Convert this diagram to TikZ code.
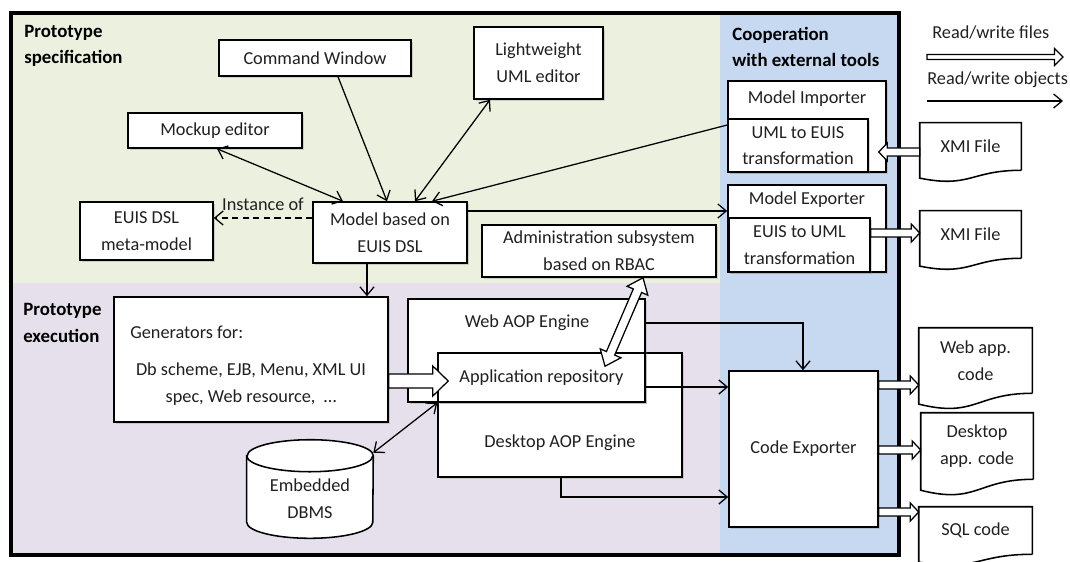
\documentclass[tikz,border=0pt]{standalone}
\usepackage{fontspec}
\setmainfont{Carlito}
\usepackage{tikz}
\usetikzlibrary{arrows.meta,calc,shadows}
\definecolor{Ink}{HTML}{202020}
\definecolor{SpecGreen}{HTML}{EBF1DE}
\definecolor{ExecPurple}{HTML}{E5E0EC}
\definecolor{CoopBlue}{HTML}{C6D9F1}
\tikzset{
  spot/.style n args={4}{at={({(#1+#3)/2},{(#2+#4)/2})},
    minimum width={(#3-#1)*0.025cm},minimum height={(#4-#2)*0.025cm}},
  box/.style={draw=black,line width=1.1pt,fill=white,inner sep=0pt,align=center,text=Ink,
    drop shadow={shadow xshift=1.5pt,shadow yshift=-1.5pt,opacity=0.3}},
  txt/.style={inner sep=0pt,align=center,text=Ink},
  doc/.style={inner sep=0pt,align=center,text=Ink},
  headtxt/.style={inner sep=0pt,align=left,text=black,font=\fontsize{13.4}{19}\selectfont\bfseries},
  link/.style={line width=0.9pt,-{Straight Barb[length=6pt,width=10pt]}},
  twoway/.style={line width=0.9pt,{Straight Barb[length=6pt,width=10pt]}-{Straight Barb[length=6pt,width=10pt]}},
  blockline/.style={draw=black,fill=white,line width=0.9pt,line join=miter},
  docline/.style={draw=black,line width=1.1pt},
  cylline/.style={draw=black,line width=1.1pt,fill=white}
}
% open block arrow: tail, tip, half shaft, half head, head length
\newcommand{\blockarrow}[5]{%
  \path[blockline] ($(#1)!#3!90:(#2)$)
    -- ($(#2)!#5!(#1)!#3!-90:(#1)$) -- ($(#2)!#5!(#1)!#4!-90:(#1)$) -- (#2)
    -- ($(#2)!#5!(#1)!#4!90:(#1)$) -- ($(#2)!#5!(#1)!#3!90:(#1)$)
    -- ($(#1)!#3!-90:(#2)$) -- cycle;}
% same, with a head at both ends
\newcommand{\blockarrowboth}[5]{%
  \path[blockline] (#1) -- ($(#1)!#5!(#2)!#4!90:(#2)$) -- ($(#1)!#5!(#2)!#3!90:(#2)$)
    -- ($(#2)!#5!(#1)!#3!-90:(#1)$) -- ($(#2)!#5!(#1)!#4!-90:(#1)$) -- (#2)
    -- ($(#2)!#5!(#1)!#4!90:(#1)$) -- ($(#2)!#5!(#1)!#3!90:(#1)$)
    -- ($(#1)!#5!(#2)!#3!-90:(#2)$) -- ($(#1)!#5!(#2)!#4!-90:(#2)$) -- cycle;}
% document outline with wavy bottom round a node
\newcommand{\docwave}[1]{%
  \draw[docline] (#1.south east) -- (#1.north east) -- (#1.north west)
    -- ($(#1.north west)!1.165!(#1.south west)$)
    .. controls ($(#1.north)!1.38!(#1.south)$) and (#1.south) .. (#1.south east);}

\begin{document}
\begin{tikzpicture}[x=0.025cm,y=-0.025cm,font=\fontsize{13}{19}\selectfont]
  \clip (0,0) rectangle (1070,561);
  % three areas
  \fill[SpecGreen] (11,13) rectangle (720,283);
  \fill[ExecPurple] (11,283) rectangle (720,555);
  \fill[CoopBlue] (720,13) rectangle (899,555);
  \draw[line width=2.2pt] (11,13) rectangle (899,555);
  \node[headtxt,anchor=west] (spechead) at (24,46) {Prototype\\specification};
  \node[headtxt,anchor=west] (exechead) at (23,323) {Prototype\\execution};
  \node[headtxt,anchor=west] (coophead) at (732,47) {Cooperation\\with external tools};

  % specification
  \node[box,spot={219}{40}{411}{76}] (cmdwin) {Command Window};
  \node[box,spot={474}{27}{603}{99}] (umled) {Lightweight\\UML editor};
  \node[box,spot={128}{113}{302}{148}] (mockup) {Mockup editor};
  \node[box,spot={80}{202}{213}{260}] (metamodel) {EUIS DSL\\meta-model};
  \node[box,spot={313}{202}{467}{263}] (model) {Model based on\\EUIS DSL};
  \node[box,spot={482}{225}{716}{277}] (admin) {Administration subsystem\\based on RBAC};

  % external tools
  \node[box,spot={728}{81}{886}{172}] (importer) {};
  \node[txt] (importerlbl) at (807,99) {Model Importer};
  \node[box,spot={728}{119}{868}{172}] (umltoeuis) {UML to EUIS\\transformation};
  \node[box,spot={728}{185}{886}{272}] (exporter) {};
  \node[txt] (exporterlbl) at (807,200) {Model Exporter};
  \node[box,spot={729}{218}{870}{272}] (euistouml) {EUIS to UML\\transformation};
  \node[doc,spot={920}{123}{1021}{170}] (xmiin) {XMI File};
  \docwave{xmiin}
  \node[doc,spot={920}{211}{1021}{258}] (xmiout) {XMI File};
  \docwave{xmiout}

  % execution
  \node[box,spot={114}{297}{388}{422}] (gen) {};
  \node[txt,anchor=west] (genhead) at (130,332) {Generators for:};
  \node[txt] (genlist) at (251,384) {Db scheme, EJB, Menu, XML UI\\spec, Web resource,\ \ …};
  \node[box,spot={438}{353}{682}{477}] (desktop) {};
  \node[txt] (desktoplbl) at (560,443) {Desktop AOP Engine};
  \node[box,spot={408}{299}{645}{402}] (webaop) {};
  \node[txt] (webaoplbl) at (527,323) {Web AOP Engine};
  \node[box,spot={438}{353}{645}{402}] (apprepo) {Application repository};
  \node[box,spot={729}{371}{878}{527}] (codeexp) {Code Exporter};
  \node[inner sep=0pt,spot={247}{440}{373}{538}] (dbms) {};
  \draw[cylline] ($(dbms.north west)+(0,16)$) -- ($(dbms.south west)+(0,-16)$)
    arc[start angle=180,end angle=360,x radius=1.575cm,y radius=0.4cm]
    -- ($(dbms.north east)+(0,16)$)
    arc[start angle=0,end angle=180,x radius=1.575cm,y radius=0.4cm] -- cycle;
  \draw[docline] ($(dbms.north west)+(0,16)$) arc[start angle=180,end angle=360,x radius=1.575cm,y radius=0.4cm];
  \node[txt] (dbmslbl) at (310,498.5) {Embedded\\DBMS};

  % generated code
  \node[doc,spot={919}{328}{1032}{393}] (webcode) {Web app.\\code};
  \docwave{webcode}
  \node[doc,spot={921}{413}{1033}{479}] (deskcode) {Desktop\\app. code};
  \docwave{deskcode}
  \node[doc,spot={919}{507}{1032}{554}] (sqlcode) {SQL code};
  \docwave{sqlcode}

  % object links
  \draw[link] (cmdwin.south -| 338,0) -- (model.north -| 387,0);
  \draw[twoway] (umled.south -| 490,0) -- (model.north -| 415,0);
  \draw[link] (importer.west |- 0,125) -- (model.north -| 432,0);
  \draw[twoway] (mockup.south -| 217,0) -- (model.north -| 343,0);
  \draw[link] (model.east |- 0,211) -- (exporter.west |- 0,211);
  \draw[link,dash pattern=on 4.5pt off 3pt] (model.west |- 0,218) --
    node[txt,above=5pt] (instlbl) {Instance of} (metamodel.east |- 0,218);
  \draw[link] (model.south -| 367,0) -- (gen.north -| 367,0);
  \draw[link] (webaop.east |- 0,323) -| (codeexp.north -| 803,0);
  \draw[link] (apprepo.east |- 0,387) -- (codeexp.west |- 0,387);
  \draw[link] (desktop.south -| 561,0) |- (codeexp.west |- 0,497);
  \draw[twoway] (apprepo.south west) -- ($(dbms.north east)+(0,13)$);

  % file links
  \coordinate (repoin) at ($(apprepo.west |- 0,381)+(11,0)$);
  \blockarrow{gen.east |- 0,381}{repoin}{5pt}{10.7pt}{11pt}
  \coordinate (impin) at ($(importer.east |- 0,152)+(-8,0)$);
  \blockarrow{xmiin.west |- 0,152}{impin}{2.8pt}{6.4pt}{6pt}
  \blockarrow{euistouml.east |- 0,233}{xmiout.west |- 0,233}{2.8pt}{6.4pt}{6pt}
  \blockarrow{codeexp.east |- 0,385}{webcode.west |- 0,385}{2.8pt}{6.4pt}{6pt}
  \blockarrow{codeexp.east |- 0,450}{deskcode.west |- 0,450}{2.8pt}{6.4pt}{6pt}
  \blockarrow{codeexp.east |- 0,512}{sqlcode.west |- 0,512}{2.8pt}{6.4pt}{6pt}
  \coordinate (repoup) at ($(apprepo.north -| 605,0)+(0,14)$);
  \blockarrowboth{admin.south -| 643,0}{repoup}{3.2pt}{8pt}{10pt}

  % key
  \node[txt,anchor=west] (keyfiles) at (932,33) {Read/write files};
  \node[txt,anchor=west] (keyobjects) at (927,80) {Read/write objects};
  \coordinate (keyfilesA) at (927,57);
  \coordinate (keyfilesB) at (1063,57);
  \blockarrow{keyfilesA}{keyfilesB}{1.8pt}{6pt}{6pt}
  \coordinate (keyobjA) at (927,101);
  \coordinate (keyobjB) at (1063,101);
  \draw[link] (keyobjA) -- (keyobjB);
\end{tikzpicture}
\end{document}
